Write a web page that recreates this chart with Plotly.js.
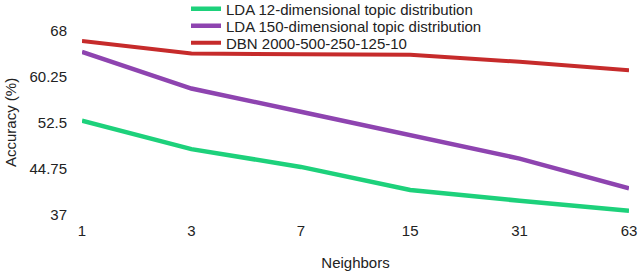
<!DOCTYPE html>
<html>
<head>
<meta charset="utf-8">
<script src="https://cdn.plot.ly/plotly-3.0.1.min.js"></script>
<style>html,body{margin:0;padding:0;background:#fff;}#chart{width:640px;height:271px;}</style>
</head>
<body>
<div id="chart"></div>
<script>
const neighbors = ["1", "3", "7", "15", "31", "63"];
const lda12 = [52.9, 48.1, 45.1, 41.2, 39.4, 37.7];
const lda150 = [64.5, 58.3, 54.4, 50.5, 46.5, 41.5];
const dbn = [66.3, 64.2, 64.1, 64.0, 62.8, 61.4];
const yTicks = [37, 44.75, 52.5, 60.25, 68];
const yTickText = ["37", "44.75", "52.5", "60.25", "68"];
const names = ["LDA 12-dimensional topic distribution", "LDA 150-dimensional topic distribution", "DBN 2000-500-250-125-10"];
const colors = ["#1dd17b", "#8e44b0", "#c62b2b"];
const legendIds = ["legend", "legend2", "legend3"];

const idx = neighbors.map((_, i) => i);
const series = [lda12, lda150, dbn];
const data = series.map((s, k) => ({
  x: idx, y: s, type: 'scatter', mode: 'lines', name: names[k],
  legend: legendIds[k],
  line: {color: colors[k], width: k === 2 ? 4 : 4.5}
}));

const fam = '"Liberation Sans", Arial, sans-serif';
const txt = '#222';
function leg(topPx) {
  return {x: 186 / 640, xref: 'container', y: 1 - topPx / 271, yref: 'container',
          xanchor: 'left', yanchor: 'middle', bgcolor: 'rgba(0,0,0,0)',
          font: {family: fam, size: 15, color: txt}};
}
const layout = {
  width: 640, height: 271,
  margin: {l: 82, r: 11, t: 31, b: 56, autoexpand: false},
  paper_bgcolor: '#fff', plot_bgcolor: '#fff',
  font: {family: fam, size: 15, color: txt},
  showlegend: true,
  legend: leg(9), legend2: leg(26), legend3: leg(43),
  xaxis: {
    range: [0, 5], tickvals: idx, ticktext: neighbors,
    showgrid: false, zeroline: false, showline: false, ticks: '',
    ticklabelstandoff: 5,
    tickfont: {family: fam, size: 15, color: txt},
    title: {text: 'Neighbors', standoff: 22, font: {family: fam, size: 15, color: txt}}
  },
  yaxis: {
    range: [37, 68], tickvals: yTicks, ticktext: yTickText,
    showgrid: false, zeroline: false, showline: false, ticks: '',
    ticklabelstandoff: 14,
    tickfont: {family: fam, size: 15, color: txt}
  },
  annotations: [{
    text: 'Accuracy (%)', textangle: -90, showarrow: false,
    xref: 'paper', x: (10 - 82) / 547, xanchor: 'center',
    yref: 'paper', y: 0.5, yanchor: 'middle',
    font: {family: fam, size: 15, color: txt}
  }]
};
Plotly.newPlot('chart', data, layout, {displayModeBar: false, staticPlot: true});
</script>
</body>
</html>
